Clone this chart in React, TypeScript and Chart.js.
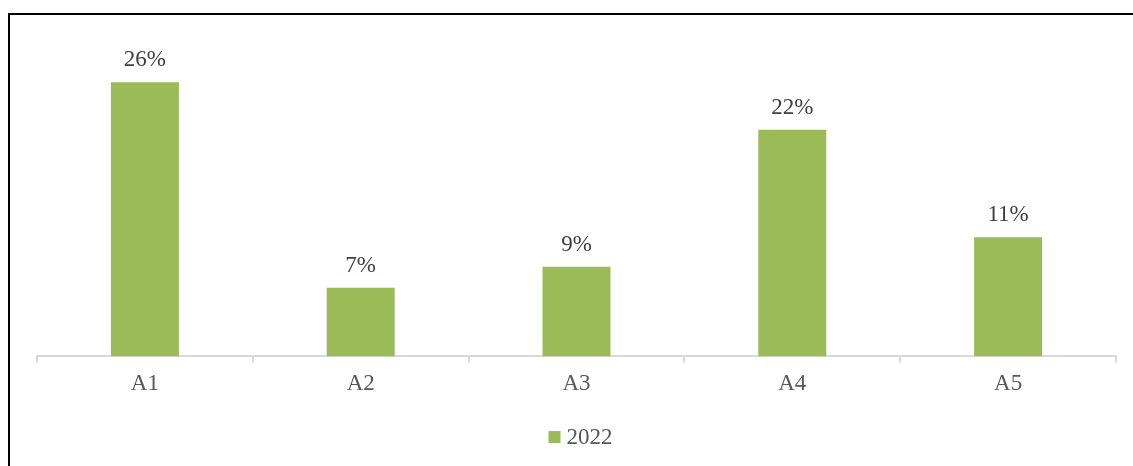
import React, { useEffect, useRef } from "react";
import { Chart, registerables } from "chart.js";

Chart.register(...registerables);

const categories = ["A1", "A2", "A3", "A4", "A5"];
const seriesName = "2022";
const values2022 = [26, 6.5, 8.5, 21.5, 11.3];

const FONT = "'Liberation Serif', 'Times New Roman', serif";
const FONT_SIZE = 23;
const BAR_COLOR = "#9BBB59";

const dataLabelPlugin = {
  id: "dataLabels",
  afterDatasetsDraw(chart: any) {
    const ctx = chart.ctx;
    const meta = chart.getDatasetMeta(0);
    ctx.save();
    ctx.font = `${FONT_SIZE}px ${FONT}`;
    ctx.fillStyle = "#404040";
    ctx.textAlign = "center";
    ctx.textBaseline = "alphabetic";
    meta.data.forEach((bar: any, i: number) => {
      const v = chart.data.datasets[0].data[i] as number;
      ctx.fillText(`${Math.round(v)}%`, bar.x, bar.y - 16);
    });
    ctx.restore();
  },
};

const legendPlugin = {
  id: "customLegend",
  afterDraw(chart: any) {
    const ctx = chart.ctx;
    const area = chart.chartArea;
    const label = chart.data.datasets[0].label as string;
    ctx.save();
    ctx.font = `${FONT_SIZE}px ${FONT}`;
    const tw = ctx.measureText(label).width;
    const box = 12;
    const gap = 6;
    const total = box + gap + tw;
    const cx = (area.left + area.right) / 2 + 4;
    const startX = cx - total / 2;
    const cy = 422;
    ctx.fillStyle = BAR_COLOR;
    ctx.fillRect(startX, cy - box / 2, box, box);
    ctx.fillStyle = "#595959";
    ctx.textAlign = "left";
    ctx.textBaseline = "middle";
    ctx.fillText(label, startX + box + gap, cy + 1);
    ctx.restore();
  },
};

export default function App() {
  const ref = useRef<HTMLCanvasElement>(null);
  useEffect(() => {
    document.body.style.overflow = "hidden";
    const chart = new Chart(ref.current!, {
      type: "bar",
      data: {
        labels: categories,
        datasets: [
          {
            label: seriesName,
            data: values2022,
            backgroundColor: BAR_COLOR,
            categoryPercentage: 1,
            barPercentage: 0.315,
          },
        ],
      },
      options: {
        animation: false,
        responsive: false,
        maintainAspectRatio: false,
        layout: { padding: { left: 27, right: 17, top: 25, bottom: 60 } },
        plugins: {
          tooltip: { enabled: false },
          legend: { display: false },
        },
        scales: {
          x: {
            offset: true,
            grid: {
              display: true,
              offset: true,
              drawOnChartArea: false,
              drawTicks: true,
              tickLength: 6,
              color: "#D9D9D9",
              lineWidth: 2,
            },
            border: { display: true, color: "#D9D9D9", width: 2 },
            ticks: {
              color: "#595959",
              padding: 8,
              font: { family: FONT, size: FONT_SIZE },
            },
          },
          y: {
            display: false,
            min: 0,
            max: 30,
          },
        },
      },
      plugins: [dataLabelPlugin, legendPlugin],
    });
    return () => chart.destroy();
  }, []);
  return (
    <div
      style={{
        position: "absolute",
        left: 8,
        top: 13,
        width: 1125,
        height: 453,
        borderTop: "2px solid #000",
        borderLeft: "2px solid #000",
        boxSizing: "border-box",
        background: "#fff",
      }}
    >
      <canvas ref={ref} width={1123} height={451} style={{ display: "block" }} />
    </div>
  );
}
